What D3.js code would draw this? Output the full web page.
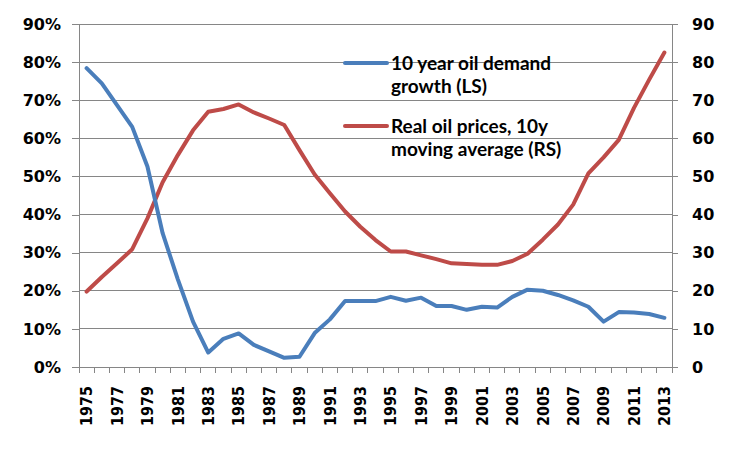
<!DOCTYPE html>
<html>
<head>
<meta charset="utf-8">
<script src="https://cdn.jsdelivr.net/npm/d3@7"></script>
<style>
  html, body { margin: 0; padding: 0; background: #fff; }
  svg { display: block; }
</style>
</head>
<body>
<svg id="chart" width="752" height="452"></svg>
<script>
const years = [1975,1976,1977,1978,1979,1980,1981,1982,1983,1984,1985,1986,1987,1988,1989,1990,1991,1992,1993,1994,1995,1996,1997,1998,1999,2000,2001,2002,2003,2004,2005,2006,2007,2008,2009,2010,2011,2012,2013];
const yearLabels = [1975,1977,1979,1981,1983,1985,1987,1989,1991,1993,1995,1997,1999,2001,2003,2005,2007,2009,2011,2013];
// 10 year oil demand growth (left scale, %)
const demandGrowth = [78.4,74.4,68.7,63.0,52.6,35.1,23.0,11.9,3.8,7.4,8.8,5.8,4.1,2.4,2.7,8.9,12.5,17.3,17.3,17.3,18.4,17.4,18.2,16.0,16.0,15.0,15.8,15.6,18.4,20.3,20.0,18.9,17.5,15.8,11.9,14.4,14.3,13.9,12.9];
// Real oil prices, 10y moving average (right scale)
const oilPrice = [19.8,23.6,27.2,30.9,39.0,48.5,55.6,62.1,67.0,67.7,68.9,66.8,65.2,63.5,56.9,50.5,45.6,40.8,36.8,33.3,30.3,30.3,29.3,28.3,27.2,27.0,26.8,26.8,27.8,29.7,33.4,37.4,42.6,50.8,55.0,59.6,68.0,75.4,82.5];
const leftTicks = [0,0.1,0.2,0.3,0.4,0.5,0.6,0.7,0.8,0.9];
const rightTicks = [0,10,20,30,40,50,60,70,80,90];
const seriesNames = ["10 year oil demand|growth (LS)", "Real oil prices, 10y|moving average (RS)"];
const seriesColors = ["#4a7ebb", "#be4b48"];

const svg = d3.select("#chart");
const L = 79, R = 672, T = 24, B = 367;
const gridColor = "#868686";

const x = d3.scaleBand().domain(years).range([L, R]).padding(0);
const yL = d3.scaleLinear().domain([0, 0.9]).range([B, T]);
const yR = d3.scaleLinear().domain([0, 90]).range([B, T]);

// gridlines
svg.append("g").selectAll("line").data(leftTicks.slice(1)).join("line")
  .attr("x1", L).attr("x2", R)
  .attr("y1", d => yL(d)).attr("y2", d => yL(d))
  .attr("stroke", gridColor).attr("stroke-width", 1).attr("shape-rendering", "crispEdges");

const axisFont = "'DejaVu Sans', Verdana, sans-serif";

// left axis
const gLeft = svg.append("g").attr("transform", `translate(${L},0)`)
  .call(d3.axisLeft(yL).tickValues(leftTicks).tickFormat(d3.format(".0%")).tickSize(7).tickPadding(11));
// right axis
const gRight = svg.append("g").attr("transform", `translate(${R},0)`)
  .call(d3.axisRight(yR).tickValues(rightTicks).tickFormat(d3.format("d")).tickSize(6).tickPadding(14));

[gLeft, gRight].forEach(g => {
  g.select(".domain").attr("stroke", gridColor).attr("shape-rendering", "crispEdges");
  g.selectAll(".tick line").attr("stroke", gridColor).attr("shape-rendering", "crispEdges");
  g.selectAll(".tick text").attr("fill", "#000")
    .style("font-family", axisFont).style("font-weight", "bold").style("font-size", "16px");
});

// bottom axis
const gBottom = svg.append("g");
gBottom.append("line").attr("x1", L).attr("x2", R).attr("y1", B).attr("y2", B)
  .attr("stroke", gridColor).attr("shape-rendering", "crispEdges");
const boundaries = years.map(d => x(d)).concat([x.range()[1]]);
gBottom.selectAll("line.tk").data(boundaries).join("line").attr("class", "tk")
  .attr("x1", d => d).attr("x2", d => d).attr("y1", B).attr("y2", B + 6)
  .attr("stroke", gridColor).attr("shape-rendering", "crispEdges");
gBottom.selectAll("text").data(yearLabels).join("text")
  .attr("transform", d => `translate(${x(d) + x.bandwidth() / 2},${B + 19}) rotate(-90)`)
  .attr("text-anchor", "end").attr("dy", "0.36em")
  .style("font-family", "'DejaVu Sans Condensed', 'DejaVu Sans', sans-serif")
  .style("font-stretch", "condensed")
  .style("font-weight", "bold").style("font-size", "16px")
  .text(d => d);

// lines
const cx = d => x(d) + x.bandwidth() / 2;
const lineL = d3.line().x((d, i) => cx(years[i])).y(d => yL(d / 100));
const lineR = d3.line().x((d, i) => cx(years[i])).y(d => yR(d));
svg.append("path").datum(oilPrice).attr("d", lineR)
  .attr("fill", "none").attr("stroke", seriesColors[1]).attr("stroke-width", 4)
  .attr("stroke-linejoin", "round").attr("stroke-linecap", "round");
svg.append("path").datum(demandGrowth).attr("d", lineL)
  .attr("fill", "none").attr("stroke", seriesColors[0]).attr("stroke-width", 4)
  .attr("stroke-linejoin", "round").attr("stroke-linecap", "round");

// legend
const legend = svg.append("g");
const legendY = [63, 126];
seriesNames.forEach((name, i) => {
  const g = legend.append("g").attr("transform", `translate(345,${legendY[i]})`);
  g.append("line").attr("x1", 0).attr("x2", 42).attr("y1", 0).attr("y2", 0)
    .attr("stroke", seriesColors[i]).attr("stroke-width", 4).attr("stroke-linecap", "round");
  const t = g.append("text").attr("x", 46).attr("y", 7)
    .style("font-family", "Lato, 'Open Sans', sans-serif").style("font-weight", "bold").style("font-size", "19px")
    .attr("fill", "#000");
  name.split("|").forEach((part, j) => {
    t.append("tspan").attr("x", 46).attr("dy", j === 0 ? 0 : 23).text(part);
  });
});
</script>
</body>
</html>
